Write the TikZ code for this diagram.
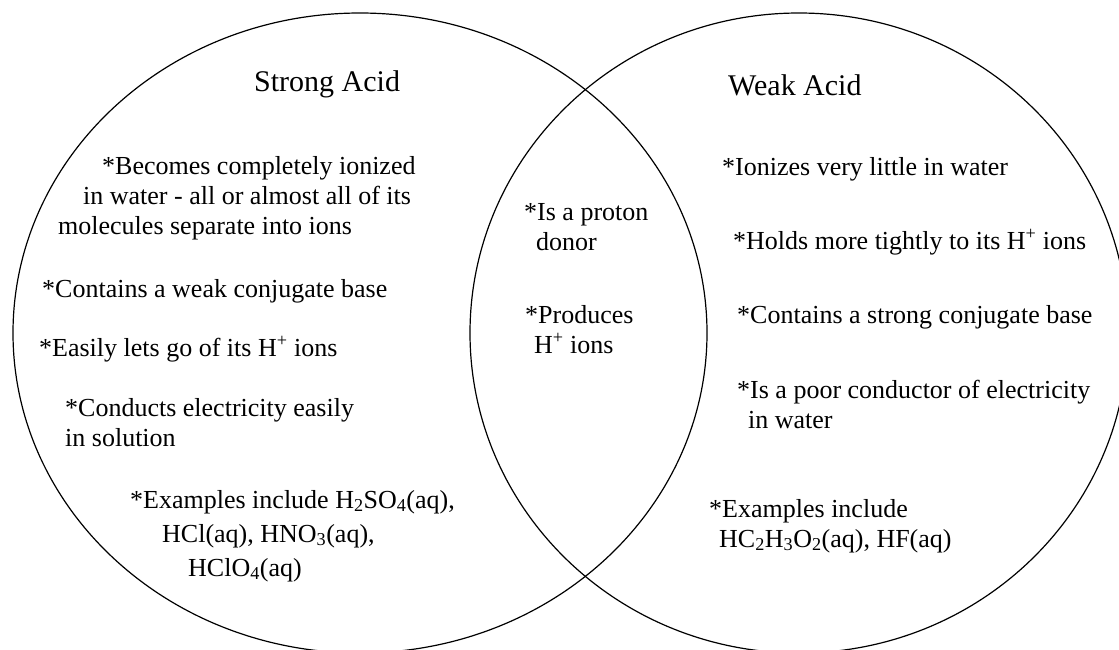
\documentclass[tikz,border=0pt]{standalone}
\usepackage{fontspec}
\setmainfont{Liberation Serif}
\usetikzlibrary{positioning}

\begin{document}
\begin{tikzpicture}[
  x=1pt, y=-1pt,
  ring/.style={draw=black, line width=1.2pt},
  ttl/.style={font=\fontsize{30}{36}\selectfont, inner sep=0pt, anchor=base west},
  txt/.style={font=\fontsize{26}{30}\selectfont, inner sep=0pt, anchor=base west, align=left},
]
  \useasboundingbox (0,0) rectangle (1119,649);
  % the two sets
  \begin{scope}
    \clip (0,0) rectangle (1119,649);
    \draw[ring] (360,333) ellipse [x radius=347, y radius=320];
    \draw[ring] (799,333) ellipse [x radius=329, y radius=320];
  \end{scope}
  % headings
  \node[ttl] (strongT) at (254,91) {Strong Acid};
  \node[ttl] (weakT) at (728,95) {Weak Acid};
  % strong acid only (multi-line nodes sit on their last baseline)
  \node[txt] (sIon) at (58,234) {\hspace*{44pt}*Becomes completely ionized\\
    \hspace*{25pt}in water - all or almost all of its\\
    molecules separate into ions};
  \node[txt] (sBase) at (42,297) {*Contains a weak conjugate base};
  \node[txt] (sLets) at (39,356) {*Easily lets go of its H\textsuperscript{+} ions};
  \node[txt] (sCond) at (65,446) {*Conducts electricity easily\\in solution};
  \node[txt] (sEx) at (130,576) {*Examples include H\textsubscript{2}SO\textsubscript{4}(aq),\\[4pt]
    \hspace*{32pt}HCl(aq), HNO\textsubscript{3}(aq),\\[4pt]
    \hspace*{58pt}HClO\textsubscript{4}(aq)};
  % both
  \node[txt] (mDonor) at (524,250) {*Is a proton\\\hspace*{12pt}donor};
  \node[txt] (mProd) at (525,353) {*Produces\\\hspace*{9pt}H\textsuperscript{+} ions};
  % weak acid only
  \node[txt] (wIon) at (722,175) {*Ionizes very little in water};
  \node[txt] (wHold) at (733,249) {*Holds more tightly to its H\textsuperscript{+} ions};
  \node[txt] (wBase) at (737,323) {*Contains a strong conjugate base};
  \node[txt] (wCond) at (737,428) {*Is a poor conductor of electricity\\\hspace*{11pt}in water};
  \node[txt] (wEx) at (709,547) {*Examples include\\\hspace*{10pt}HC\textsubscript{2}H\textsubscript{3}O\textsubscript{2}(aq), HF(aq)};
\end{tikzpicture}
\end{document}
